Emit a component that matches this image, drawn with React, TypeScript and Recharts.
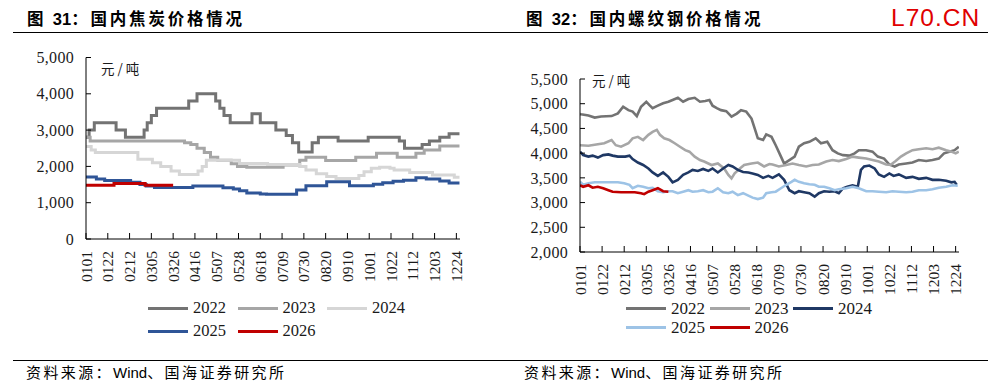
import React from 'react';
import { LineChart, Line, XAxis, YAxis, Legend } from 'recharts';

type Pt = [number, number];

// x positions are day-of-year indices (0 = 01-01)
const TICK_DAYS = [0, 21, 42, 63, 84, 105, 126, 147, 168, 189, 210, 231, 252, 273, 294, 315, 336, 357];
const TICK_LABELS = ['0101', '0122', '0212', '0305', '0326', '0416', '0507', '0528', '0618', '0709', '0730', '0820', '0910', '1001', '1022', '1112', '1203', '1224'];
const YEARS = ['2022', '2023', '2024', '2025', '2026'];

const COKE_Y_TICKS = [0, 1000, 2000, 3000, 4000, 5000];
const REBAR_Y_TICKS = [2000, 2500, 3000, 3500, 4000, 4500, 5000, 5500];

// 国内焦炭价格 (元/吨)
const coke2022: Pt[] = [[0, 2800], [3, 3000], [8, 3200], [29, 3000], [38, 2800], [56, 3000], [59, 3200], [63, 3400], [68, 3600], [99, 3800], [107, 4000], [125, 3800], [129, 3600], [133, 3400], [139, 3200], [160, 3450], [168, 3200], [183, 3000], [193, 2850], [199, 2650], [205, 2400], [218, 2650], [224, 2800], [243, 2700], [272, 2800], [302, 2700], [307, 2500], [324, 2600], [331, 2700], [341, 2800], [350, 2900], [360, 2900]];
const coke2023: Pt[] = [[0, 2800], [4, 2700], [88, 2700], [95, 2650], [101, 2600], [107, 2500], [114, 2380], [120, 2250], [127, 2170], [140, 2070], [146, 2000], [155, 1980], [190, 2040], [206, 2170], [212, 2250], [231, 2160], [260, 2250], [280, 2360], [300, 2250], [318, 2360], [326, 2450], [341, 2560], [360, 2560]];
const coke2024: Pt[] = [[0, 2550], [5, 2450], [9, 2380], [46, 2380], [50, 2200], [64, 2100], [72, 2000], [82, 1870], [90, 1780], [104, 1780], [108, 1870], [112, 2000], [116, 2170], [142, 2170], [148, 2080], [175, 2050], [203, 2050], [206, 2000], [212, 1900], [222, 1800], [232, 1720], [241, 1670], [259, 1670], [263, 1750], [268, 1850], [275, 1950], [283, 1980], [293, 1950], [297, 1900], [306, 1900], [312, 1830], [328, 1830], [334, 1760], [350, 1760], [355, 1700], [360, 1700]];
const coke2025: Pt[] = [[0, 1710], [10, 1650], [18, 1610], [40, 1610], [43, 1560], [52, 1500], [58, 1460], [66, 1420], [100, 1420], [103, 1460], [128, 1460], [132, 1410], [142, 1380], [148, 1330], [155, 1270], [168, 1240], [174, 1230], [193, 1230], [203, 1350], [212, 1470], [232, 1580], [245, 1580], [254, 1470], [267, 1470], [277, 1510], [286, 1550], [296, 1590], [306, 1620], [318, 1690], [328, 1650], [341, 1600], [350, 1540], [360, 1540]];
const coke2026: Pt[] = [[0, 1480], [27, 1530], [57, 1480], [84, 1480]];

// 国内螺纹钢价格 (元/吨)
const rebar2022: Pt[] = [[0, 4790], [1, 4785], [8, 4760], [14, 4720], [20, 4740], [30, 4750], [36, 4805], [41, 4940], [46, 4870], [50, 4840], [54, 4750], [58, 4940], [63, 5040], [66, 4970], [69, 4910], [74, 4960], [79, 5010], [84, 5040], [88, 5075], [93, 5120], [98, 5040], [103, 5095], [109, 5120], [114, 5040], [119, 5055], [123, 5075], [126, 4960], [130, 4910], [134, 4870], [139, 4850], [144, 4740], [149, 4800], [153, 4870], [158, 4840], [163, 4700], [166, 4500], [169, 4300], [174, 4265], [177, 4380], [182, 4330], [186, 4160], [191, 3930], [194, 3790], [199, 3860], [204, 3930], [208, 4130], [213, 4200], [218, 4230], [224, 4300], [229, 4200], [235, 4230], [240, 4060], [245, 3995], [250, 3960], [256, 3950], [261, 3995], [265, 4060], [272, 4060], [278, 4030], [283, 3930], [289, 3890], [294, 3770], [299, 3730], [303, 3770], [310, 3790], [316, 3810], [322, 3860], [329, 3840], [335, 3860], [341, 3890], [346, 3995], [351, 4030], [356, 4060], [360, 4130]];
const rebar2023: Pt[] = [[0, 4160], [8, 4150], [17, 4180], [23, 4200], [30, 4265], [34, 4160], [39, 4130], [46, 4200], [50, 4300], [55, 4330], [60, 4265], [65, 4370], [69, 4430], [73, 4470], [76, 4370], [80, 4300], [85, 4265], [90, 4200], [95, 4130], [100, 4060], [104, 4030], [109, 3930], [114, 3860], [118, 3830], [125, 3760], [131, 3790], [137, 3690], [141, 3560], [144, 3490], [147, 3590], [152, 3690], [156, 3760], [163, 3790], [169, 3810], [175, 3730], [180, 3780], [183, 3770], [189, 3730], [196, 3760], [202, 3790], [208, 3760], [215, 3730], [221, 3760], [227, 3770], [234, 3830], [240, 3860], [246, 3840], [253, 3880], [259, 3930], [265, 3910], [272, 3890], [278, 3860], [284, 3830], [291, 3770], [295, 3760], [300, 3840], [305, 3930], [310, 3995], [316, 4060], [322, 4080], [329, 4100], [335, 4080], [341, 4110], [348, 4060], [353, 4030], [357, 3995], [360, 4030]];
const rebar2024: Pt[] = [[0, 4030], [3, 3960], [8, 3930], [12, 3950], [17, 3910], [22, 3960], [27, 3975], [31, 3950], [36, 3930], [43, 3930], [47, 3950], [50, 3880], [55, 3810], [60, 3760], [65, 3690], [69, 3610], [74, 3540], [79, 3610], [84, 3520], [88, 3410], [93, 3460], [98, 3560], [103, 3610], [107, 3660], [112, 3640], [117, 3680], [122, 3640], [126, 3690], [131, 3610], [136, 3690], [141, 3760], [145, 3730], [150, 3660], [155, 3620], [160, 3610], [164, 3590], [169, 3560], [174, 3500], [179, 3540], [183, 3500], [189, 3570], [194, 3460], [199, 3250], [204, 3190], [208, 3230], [213, 3210], [218, 3190], [223, 3120], [227, 3190], [232, 3230], [237, 3220], [242, 3230], [246, 3190], [250, 3290], [254, 3320], [259, 3350], [264, 3320], [267, 3660], [270, 3730], [275, 3750], [280, 3690], [284, 3570], [289, 3520], [294, 3590], [298, 3540], [303, 3570], [310, 3500], [316, 3520], [322, 3480], [329, 3500], [335, 3460], [341, 3460], [348, 3440], [353, 3410], [356, 3420], [358, 3360]];
const rebar2025: Pt[] = [[0, 3420], [3, 3360], [8, 3390], [14, 3410], [23, 3410], [30, 3410], [36, 3410], [42, 3390], [47, 3360], [50, 3290], [55, 3340], [60, 3320], [65, 3290], [69, 3300], [74, 3230], [79, 3210], [84, 3230], [88, 3230], [93, 3190], [98, 3220], [103, 3250], [107, 3220], [112, 3230], [117, 3250], [122, 3210], [126, 3220], [131, 3290], [136, 3210], [141, 3190], [145, 3220], [150, 3150], [155, 3190], [160, 3140], [164, 3100], [169, 3070], [174, 3100], [177, 3190], [182, 3210], [186, 3220], [191, 3290], [196, 3360], [201, 3420], [204, 3460], [208, 3420], [213, 3390], [218, 3370], [223, 3360], [227, 3320], [232, 3320], [237, 3290], [242, 3250], [246, 3270], [253, 3290], [259, 3320], [265, 3290], [272, 3230], [278, 3230], [284, 3220], [291, 3210], [297, 3230], [303, 3220], [310, 3210], [316, 3220], [322, 3250], [329, 3250], [335, 3270], [341, 3300], [348, 3320], [354, 3350], [359, 3340]];
const rebar2026: Pt[] = [[0, 3350], [3, 3320], [8, 3350], [12, 3300], [17, 3320], [22, 3290], [27, 3250], [31, 3220], [39, 3210], [46, 3210], [52, 3210], [58, 3190], [61, 3170], [65, 3220], [69, 3250], [74, 3290], [79, 3230], [84, 3220]];

const COKE_SERIES = [coke2022, coke2023, coke2024, coke2025, coke2026];
const REBAR_SERIES = [rebar2022, rebar2023, rebar2024, rebar2025, rebar2026];

const COKE_COLORS = ['#737373', '#a6a6a6', '#d6d6d6', '#2f5597', '#c00000'];
const REBAR_COLORS = ['#737373', '#a6a6a6', '#1f3864', '#9dc3e6', '#c00000'];

const SERIF = '"Liberation Serif", "Times New Roman", serif';
const CJK = '"Noto Sans CJK SC", "Noto Sans", sans-serif';
const SANS = '"Liberation Sans", Arial, sans-serif';

const toRows = (pts: Pt[]) => pts.map(([d, v]) => ({ d, v }));

const RotTick = (props: any) => {
  const { x, y, payload } = props;
  const idx = TICK_DAYS.indexOf(payload.value);
  return (
    <text
      x={x}
      y={y}
      transform={`rotate(-90 ${x} ${y})`}
      textAnchor="end"
      dominantBaseline="central"
      fontFamily={SERIF}
      fontSize={15.5}
      fill="#1a1a1a"
    >
      {idx >= 0 ? TICK_LABELS[idx] : ''}
    </text>
  );
};

type LegendCfg = { left: number; top: number; colW: number; rowH: number; fs: number };

const makeLegend = (cfg: LegendCfg) => (props: any) => {
  const payload = props.payload || [];
  return (
    <div style={{ position: 'relative', width: cfg.colW * 3, height: cfg.rowH * 2 }}>
      {payload.map((e: any, i: number) => (
        <div
          key={i}
          style={{
            position: 'absolute',
            left: (i % 3) * cfg.colW,
            top: Math.floor(i / 3) * cfg.rowH,
            height: cfg.rowH,
            display: 'flex',
            alignItems: 'center',
            whiteSpace: 'nowrap',
          }}
        >
          <span style={{ display: 'inline-block', width: 40, height: 3, background: e.color, marginRight: 5 }} />
          <span style={{ fontFamily: SERIF, fontSize: cfg.fs, color: '#1a1a1a', lineHeight: 1 }}>{e.value}</span>
        </div>
      ))}
    </div>
  );
};

type PanelProps = {
  series: Pt[][];
  colors: string[];
  yDomain: [number, number];
  yTicks: number[];
  top: number;
  bottomY: number;
  rightMargin: number;
  xMax: number;
  lineType: 'stepAfter' | 'linear';
  strokeW: number;
  legend: LegendCfg;
};

function Panel(p: PanelProps) {
  const W = 494;
  const H = 392;
  return (
    <LineChart width={W} height={H} margin={{ top: p.top, right: p.rightMargin, bottom: 0, left: 0 }}>
      <XAxis
        type="number"
        dataKey="d"
        domain={[0, p.xMax]}
        ticks={TICK_DAYS}
        interval={0}
        allowDataOverflow
        height={H - p.bottomY}
        tickSize={-6}
        tickMargin={6 + 12}
        tick={<RotTick />}
        axisLine={{ stroke: '#000', strokeWidth: 1 }}
        tickLine={{ stroke: '#000', strokeWidth: 1 }}
      />
      <YAxis
        type="number"
        domain={p.yDomain}
        ticks={p.yTicks}
        interval={0}
        allowDataOverflow
        width={86}
        tickSize={-5}
        tickMargin={5 + 12}
        tickFormatter={(v: number) => v.toLocaleString('en-US')}
        tick={{ fontFamily: SERIF, fontSize: 16, fill: '#1a1a1a', letterSpacing: 0.3 }}
        axisLine={{ stroke: '#000', strokeWidth: 1 }}
        tickLine={{ stroke: '#000', strokeWidth: 1 }}
      />
      {p.series.map((s, i) => (
        <Line
          key={YEARS[i]}
          data={toRows(s)}
          dataKey="v"
          name={YEARS[i]}
          type={p.lineType}
          stroke={p.colors[i]}
          strokeWidth={p.strokeW}
          dot={false}
          activeDot={false}
          isAnimationActive={false}
        />
      ))}
      <Legend
        layout="vertical"
        align="center"
        verticalAlign="middle"
        wrapperStyle={{ left: p.legend.left, top: p.legend.top, width: p.legend.colW * 3, height: p.legend.rowH * 2 }}
        content={makeLegend(p.legend)}
      />
    </LineChart>
  );
}

const titleStyle: React.CSSProperties = {
  position: 'absolute',
  top: 8,
  fontFamily: CJK,
  fontWeight: 700,
  fontSize: 16.5,
  lineHeight: '20px',
  letterSpacing: 2.8,
  color: '#000',
  whiteSpace: 'nowrap',
};

const sourceStyle: React.CSSProperties = {
  position: 'absolute',
  top: 362,
  fontFamily: CJK,
  fontSize: 15,
  lineHeight: '20px',
  letterSpacing: 2.4,
  color: '#000',
  whiteSpace: 'nowrap',
};

const unitStyle: React.CSSProperties = {
  position: 'absolute',
  fontFamily: CJK,
  fontSize: 13.5,
  lineHeight: '16px',
  letterSpacing: 3,
  color: '#1a1a1a',
  whiteSpace: 'nowrap',
};

export default function App() {
  return (
    <div style={{ position: 'absolute', left: 0, top: 0, width: 988, height: 392, background: '#fff', overflow: 'hidden' }}>
      {/* titles */}
      <div style={{ ...titleStyle, left: 27 }}>
        图 <span style={{ fontFamily: SANS, letterSpacing: 0 }}>31</span>：国内焦炭价格情况
      </div>
      <div style={{ ...titleStyle, left: 526 }}>
        图 <span style={{ fontFamily: SANS, letterSpacing: 0 }}>32</span>：国内螺纹钢价格情况
      </div>
      <div
        style={{
          position: 'absolute',
          left: 891,
          top: 3,
          fontFamily: SANS,
          fontSize: 24.5,
          lineHeight: '30px',
          letterSpacing: 1,
          color: '#e00000',
          whiteSpace: 'nowrap',
        }}
      >
        L70.CN
      </div>
      <div style={{ position: 'absolute', left: 13, top: 31.5, width: 975, height: 0, borderTop: '1.3px solid #000' }} />

      {/* charts */}
      <div style={{ position: 'absolute', left: 0, top: 0 }}>
        <Panel
          series={COKE_SERIES}
          colors={COKE_COLORS}
          yDomain={[0, 5000]}
          yTicks={COKE_Y_TICKS}
          top={57.5}
          bottomY={239}
          rightMargin={34}
          xMax={360.5}
          lineType="stepAfter"
          strokeW={3}
          legend={{ left: 148, top: 296.5, colW: 89.5, rowH: 23, fs: 16.5 }}
        />
      </div>
      <div style={{ position: 'absolute', left: 494, top: 0 }}>
        <Panel
          series={REBAR_SERIES}
          colors={REBAR_COLORS}
          yDomain={[2000, 5500]}
          yTicks={REBAR_Y_TICKS}
          top={79}
          bottomY={252}
          rightMargin={29}
          xMax={360.2}
          lineType="linear"
          strokeW={2.6}
          legend={{ left: 132, top: 298.5, colW: 83.5, rowH: 19, fs: 17 }}
        />
      </div>

      <div style={{ ...unitStyle, left: 101, top: 60 }}>元/吨</div>
      <div style={{ ...unitStyle, left: 592, top: 72 }}>元/吨</div>

      {/* source */}
      <div style={{ position: 'absolute', left: 13, top: 359.5, width: 975, height: 0, borderTop: '1.3px solid #000' }} />
      <div style={{ ...sourceStyle, left: 26 }}>
        资料来源：<span style={{ fontFamily: SANS, letterSpacing: 0 }}>Wind</span>、国海证券研究所
      </div>
      <div style={{ ...sourceStyle, left: 524 }}>
        资料来源：<span style={{ fontFamily: SANS, letterSpacing: 0 }}>Wind</span>、国海证券研究所
      </div>
    </div>
  );
}
